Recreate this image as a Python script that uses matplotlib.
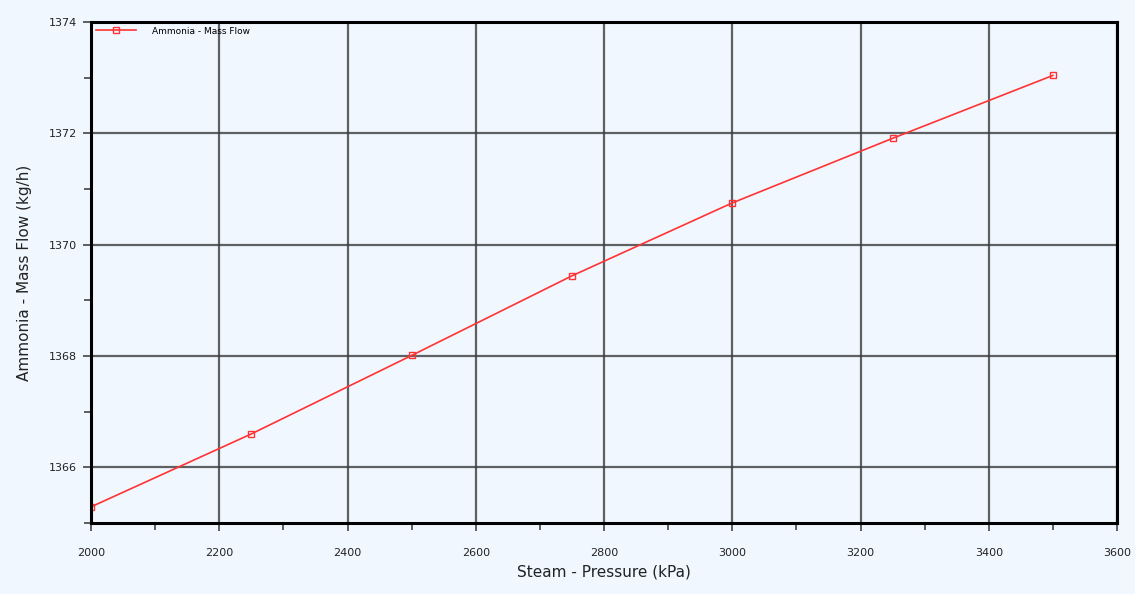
import matplotlib
matplotlib.use("Agg")
import matplotlib.pyplot as plt
from matplotlib.ticker import MultipleLocator

pressure = [2000, 2250, 2500, 2750, 3000, 3250, 3500]
mass_flow = [1365.29, 1366.60, 1368.01, 1369.44, 1370.75, 1371.91, 1373.04]
series_label = "Ammonia - Mass Flow"
xlabel = "Steam - Pressure (kPa)"
ylabel = "Ammonia - Mass Flow (kg/h)"

bg = "#F0F7FF"
fig = plt.figure(figsize=(11.35, 5.94), dpi=100, facecolor=bg)
ax = fig.add_axes([91/1135, 1-523/594, (1117-91)/1135, (523-22)/594], facecolor=bg)

ax.plot(pressure, mass_flow, color="#FF3333", lw=1.2, marker="s", ms=5,
        mfc="none", mec="#FF3333", mew=1.0, label=series_label)

ax.set_xlim(2000, 3600)
ax.set_ylim(1365, 1374)
ax.xaxis.set_major_locator(MultipleLocator(200))
ax.xaxis.set_minor_locator(MultipleLocator(100))
ax.yaxis.set_major_locator(MultipleLocator(2))
ax.yaxis.set_minor_locator(MultipleLocator(1))
ax.grid(True, which="major", color="#3a3a3a", lw=1.6, alpha=0.8)
ax.set_axisbelow(True)
for s in ax.spines.values():
    s.set_linewidth(2.2)
    s.set_color("black")
ax.tick_params(which="major", direction="out", length=6, width=1.2, color="#444444",
               labelsize=8, pad=12, labelcolor="#222222")
ax.tick_params(which="minor", direction="out", length=5, width=1.2, color="#444444")
ax.tick_params(axis="y", pad=4)
ax.set_xlabel(xlabel, fontsize=11, color="#222222", labelpad=5)
ax.set_ylabel(ylabel, fontsize=11, color="#222222", labelpad=12)

leg = ax.legend(loc="upper left", frameon=False, fontsize=6.5, handlelength=4.5,
                borderaxespad=0.1, handletextpad=1.8, bbox_to_anchor=(0.0, 1.0))

fig.savefig("out.png", dpi=100, facecolor=bg)
